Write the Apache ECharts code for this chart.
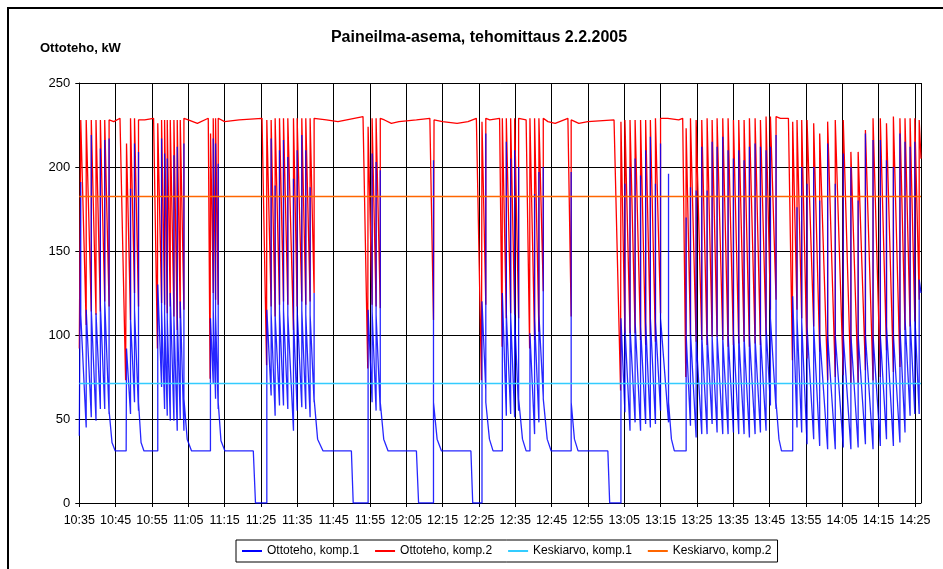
<!DOCTYPE html>
<html>
<head>
<meta charset="utf-8">
<script src="https://cdn.jsdelivr.net/npm/echarts/dist/echarts.min.js"></script>
<style>
html,body{margin:0;padding:0;background:#fff;}
#chart{width:943px;height:569px;}
</style>
</head>
<body>
<div id="chart"></div>
<script>
// minutes from 10:35, x axis labels every 10 minutes
var timeLabels = ['10:35','10:45','10:55','11:05','11:15','11:25','11:35','11:45','11:55','12:05','12:15','12:25',
    '12:35','12:45','12:55','13:05','13:15','13:25','13:35','13:45','13:55','14:05','14:15','14:25'];
var endMinute = 231.7;

// mean values
var meanKomp1 = 71.2;
var meanKomp2 = 182.4;

// Ottoteho, komp.1 : [minute, value, value...] (several values = vertical jump at that minute)
var komp1Rows = [
    [0, 40], [0.4, 40, 191, 112], [1.9, 45, 115], [3.3, 51, 219, 115], [4.6, 49, 113],
    [5.8, 56, 211, 118], [7.0, 56, 216, 120], [8.2, 53, 217, 55], [9.0, 36], [9.9, 31],
    [12.9, 31], [13.0, 31, 92], [14.1, 53, 187, 110], [15.2, 60, 214, 115], [16.3, 55, 209, 60],
    [17.0, 36], [17.8, 31],
    [21.6, 31, 130], [22.65, 69, 217, 115], [23.48, 56, 208, 112], [24.21, 52, 205, 110],
    [25.04, 49, 125], [26.05, 49, 207, 110], [26.96, 43, 212, 112], [27.79, 50, 120],
    [28.8, 43, 214, 62], [29.7, 38], [30.9, 31],
    [36.1, 31, 110], [36.87, 71, 217, 115], [37.51, 62, 214, 112], [38.24, 56, 202, 60],
    [39.0, 37], [40.1, 31],
    [47.9, 31], [48.5, 0],
    [51.62, 0, 115], [52.81, 64, 217, 113], [53.91, 52, 189, 112], [55.11, 58, 210, 115],
    [56.21, 58, 216, 115], [57.4, 56, 206, 112], [58.96, 43, 193, 110], [59.97, 55, 210, 115],
    [61.25, 57, 219, 115], [62.35, 56, 210, 112], [63.54, 51, 188, 112], [64.64, 60, 125, 62],
    [65.6, 38], [67.1, 31],
    [74.9, 31], [75.4, 0],
    [79.5, 0, 115], [80.6, 60, 208, 114], [81.7, 55, 203, 112], [82.85, 55, 198, 60],
    [83.8, 38], [85.0, 31],
    [92.8, 31], [93.4, 0],
    [97.5, 0, 204, 60], [98.5, 38], [99.7, 31],
    [107.8, 31], [108.3, 0],
    [110.85, 0, 120], [111.9, 67, 220, 60], [112.9, 38], [113.9, 31],
    [116.45, 31, 125], [117.55, 52, 215, 113], [118.74, 53, 205, 112], [119.84, 51, 210, 111],
    [120.94, 55, 200, 62], [122.0, 38], [123.0, 31],
    [124.05, 31, 101], [125.33, 41, 184, 110], [126.52, 48, 197, 112], [127.72, 63, 200, 62],
    [128.8, 38], [129.9, 31],
    [135.4, 31, 197, 60], [136.3, 38], [137.3, 31],
    [145.5, 31], [146.0, 0],
    [149.1, 0, 110], [150.2, 54, 190, 105], [151.6, 43, 200, 105], [153.0, 48, 205, 108],
    [154.5, 43, 195, 105], [155.9, 47, 210, 108], [157.2, 45, 218, 110], [158.6, 47, 190, 108],
    [160.0, 55, 214, 110], [162.2, 48, 196, 60], [163.0, 38], [163.8, 31],
    [167.05, 31, 170, 100], [168.24, 46, 188, 102], [169.8, 39, 186, 98], [171.35, 41, 212, 100],
    [172.82, 41, 186, 101], [174.2, 47, 215, 99], [175.57, 42, 212, 100], [177.13, 41, 218, 98],
    [178.6, 41, 210, 100], [180.07, 42, 205, 101], [181.53, 41, 210, 100], [183.0, 41, 204, 99],
    [184.47, 39, 212, 100], [186.03, 41, 214, 98], [187.5, 42, 212, 100], [189.05, 43, 210, 105],
    [190.25, 58, 212, 110], [191.8, 56, 219, 60], [192.6, 38], [193.3, 31],
    [196.38, 31, 123], [197.57, 45, 176, 110], [198.86, 42, 200, 108], [200.33, 35, 190, 105],
    [202.16, 38, 200, 105], [203.81, 34, 180, 100], [206.0, 32, 214, 100], [208.1, 32, 190, 100],
    [210.3, 33, 208, 100], [212.4, 32, 200, 100], [214.4, 33, 180, 100], [216.4, 35, 220, 100],
    [218.5, 32, 216, 100], [220.5, 34, 216, 100], [222.2, 38, 204, 105], [224.1, 34, 200, 100],
    [225.9, 36, 220, 105], [227.3, 42, 215, 110], [228.7, 52, 212, 110], [230.0, 53, 215, 112],
    [231.2, 53, 133], [231.7, 125]
];

// Ottoteho, komp.2
var komp2Rows = [
    [0, 92], [0.4, 92, 228], [1.9, 106, 228], [3.3, 114, 228], [4.6, 112, 228],
    [5.8, 114, 228], [7.0, 120, 228], [8.2, 117, 228], [9.5, 227], [11.2, 229],
    [12.75, 73], [13.0, 73, 214], [14.1, 109, 229], [15.2, 125, 229], [16.3, 117, 228],
    [18.0, 228], [20.45, 229],
    [21.5, 92], [21.6, 92, 226], [22.65, 119, 228], [23.48, 118, 228], [24.21, 113, 228],
    [25.04, 117, 228], [26.05, 111, 228], [26.96, 103, 228], [27.79, 110, 228], [28.8, 115, 229],
    [30.0, 228], [32.5, 226], [35.5, 229],
    [36.0, 74], [36.13, 74, 220], [36.87, 125, 229], [37.51, 121, 229], [38.24, 118, 229],
    [40.0, 227], [44.0, 228], [50.3, 229],
    [51.55, 82], [51.62, 82, 228], [52.81, 117, 228], [53.91, 111, 229], [55.11, 118, 229],
    [56.21, 120, 229], [57.4, 118, 229], [58.96, 103, 229], [59.97, 117, 229], [61.25, 120, 229],
    [62.35, 118, 229], [63.54, 120, 229], [64.64, 125, 229],
    [68.0, 228], [71.2, 227], [78.1, 230],
    [79.4, 80], [79.5, 80, 224], [80.6, 118, 229], [81.7, 117, 229], [82.85, 116, 229],
    [84.0, 228], [85.9, 226], [88.0, 227], [92.8, 228], [96.5, 229],
    [97.5, 109], [97.65, 109, 228],
    [100.0, 227], [104.0, 226], [107.0, 227], [109.3, 229],
    [110.7, 73], [110.85, 73, 227], [111.9, 118, 229],
    [113.0, 228], [115.7, 229],
    [116.4, 93], [116.45, 93, 229], [117.55, 110, 229], [118.74, 113, 229], [119.84, 112, 229],
    [120.94, 110, 229], [123.0, 228],
    [123.96, 92], [124.05, 92, 229], [125.33, 97, 229], [126.52, 102, 229], [127.72, 126, 229],
    [129.0, 227], [131.0, 226], [134.5, 229],
    [135.4, 111, 228],
    [137.5, 226], [140.0, 227], [147.2, 228],
    [149.0, 67], [149.1, 67, 227], [150.2, 101, 228], [151.6, 101, 228], [153.0, 101, 228],
    [154.5, 97, 228], [155.9, 94, 228], [157.2, 100, 228], [158.6, 96, 229], [160.0, 113, 229],
    [162.0, 229], [165.0, 228], [166.1, 229],
    [166.95, 75], [167.05, 75, 223], [168.24, 100, 229], [169.8, 96, 228], [171.35, 97, 228],
    [172.82, 94, 229], [174.2, 99, 228], [175.57, 99, 229], [177.13, 97, 229], [178.6, 93, 229],
    [180.07, 94, 228], [181.53, 95, 228], [183.0, 96, 228], [184.47, 93, 229], [186.03, 95, 229],
    [187.5, 94, 228], [189.05, 100, 230], [190.25, 115, 230], [191.8, 121, 230],
    [193.0, 229], [195.2, 229],
    [196.3, 85], [196.38, 85, 227], [197.57, 115, 228], [198.86, 110, 228], [200.33, 86, 228],
    [202.16, 105, 226], [203.81, 90, 220], [206.0, 73, 227], [208.1, 75, 228], [210.3, 76, 228],
    [212.4, 71, 209], [214.4, 71, 209], [216.4, 79, 222], [218.5, 73, 229], [220.5, 75, 229],
    [222.2, 91, 226], [224.1, 78, 230], [225.9, 81, 229], [227.3, 103, 229], [228.7, 105, 229],
    [230.0, 108, 229], [231.2, 121, 228], [231.7, 205]
];

function toPoints(rows) {
    var pts = [];
    rows.forEach(function (r) {
        for (var i = 1; i < r.length; i++) {
            pts.push([r[0], r[i]]);
        }
    });
    return pts;
}

var font = "'Liberation Sans', Arial, sans-serif";
var chart = echarts.init(document.getElementById('chart'));
var option = {
    animation: false,
    backgroundColor: '#fff',
    textStyle: { fontFamily: font, color: '#000' },
    graphic: [
        {
            type: 'rect', silent: true, z: -1,
            shape: { x: 8, y: 8, width: 1200, height: 1000 },
            style: { fill: 'none', stroke: '#000', lineWidth: 2 }
        },
        {
            type: 'text', x: 479, y: 38,
            style: { text: 'Paineilma-asema, tehomittaus 2.2.2005', font: 'bold 16px ' + font, fill: '#000',
                align: 'center', verticalAlign: 'middle', textAlign: 'center', textVerticalAlign: 'middle' }
        },
        {
            type: 'text', x: 40, y: 48,
            style: { text: 'Ottoteho, kW', font: 'bold 13px ' + font, fill: '#000',
                align: 'left', verticalAlign: 'middle', textAlign: 'left', textVerticalAlign: 'middle' }
        }
    ],
    legend: {
        left: 236, top: 540,
        icon: 'rect',
        itemWidth: 20, itemHeight: 2, itemGap: 16,
        padding: [5, 6],
        borderColor: '#000', borderWidth: 1,
        textStyle: { fontSize: 12, color: '#000', fontFamily: font },
        data: ['Ottoteho, komp.1', 'Ottoteho, komp.2', 'Keskiarvo, komp.1', 'Keskiarvo, komp.2']
    },
    grid: { left: 79.3, right: 22, top: 83, bottom: 66 },
    xAxis: {
        type: 'value', min: 0, max: endMinute, interval: 10,
        axisLine: { lineStyle: { color: '#000', width: 1 } },
        axisTick: { length: 4, lineStyle: { color: '#000' } },
        axisLabel: {
            color: '#000', fontSize: 12.5, margin: 11, showMaxLabel: false,
            formatter: function (v) {
                return v % 10 === 0 ? timeLabels[v / 10] : '';
            }
        },
        splitLine: { show: true, lineStyle: { color: '#000', width: 1 } }
    },
    yAxis: {
        type: 'value', min: 0, max: 250, interval: 50,
        axisLine: { show: true, lineStyle: { color: '#000', width: 1 } },
        axisTick: { show: true, length: 4, lineStyle: { color: '#000' } },
        axisLabel: { color: '#000', fontSize: 13, margin: 9 },
        splitLine: { show: true, lineStyle: { color: '#000', width: 1 } }
    },
    series: [
        {
            name: 'Ottoteho, komp.1', type: 'line', symbol: 'none', z: 4,
            data: toPoints(komp1Rows),
            lineStyle: { color: '#0000FF', width: 1.3, opacity: 0.85 },
            itemStyle: { color: '#0000FF' }
        },
        {
            name: 'Ottoteho, komp.2', type: 'line', symbol: 'none', z: 3,
            data: toPoints(komp2Rows),
            lineStyle: { color: '#FF0000', width: 1.3 },
            itemStyle: { color: '#FF0000' }
        },
        {
            name: 'Keskiarvo, komp.1', type: 'line', symbol: 'none', z: 5,
            data: [[0, meanKomp1], [endMinute, meanKomp1]],
            lineStyle: { color: '#33CCFF', width: 1.5 },
            itemStyle: { color: '#33CCFF' }
        },
        {
            name: 'Keskiarvo, komp.2', type: 'line', symbol: 'none', z: 5,
            data: [[0, meanKomp2], [endMinute, meanKomp2]],
            lineStyle: { color: '#FF6600', width: 1.5 },
            itemStyle: { color: '#FF6600' }
        }
    ]
};
chart.setOption(option);
</script>
</body>
</html>
